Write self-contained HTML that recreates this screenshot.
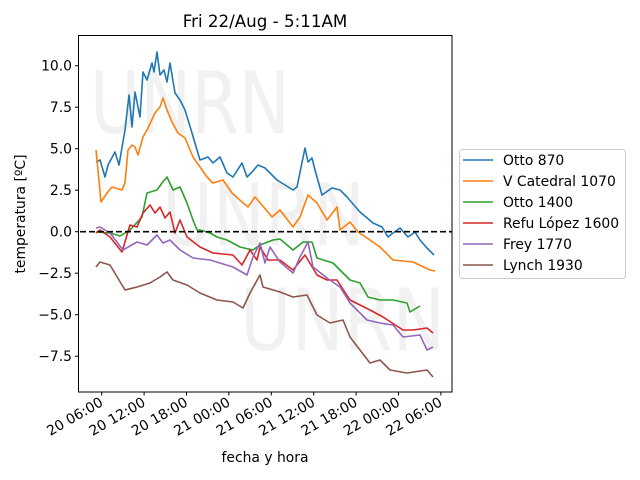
<!DOCTYPE html>
<html><head><meta charset="utf-8"><style>body{margin:0;background:#fff}svg{display:block}text{font-family:"DejaVu Sans","Liberation Sans",sans-serif}</style></head>
<body>
<svg width="640" height="480" viewBox="0 0 640 480" xmlns="http://www.w3.org/2000/svg">
<rect width="640" height="480" fill="#fff"/>
<g font-size="86" fill="#000" fill-opacity="0.055">
<text x="90" y="133" textLength="200" lengthAdjust="spacingAndGlyphs">UNRN</text>
<text x="162" y="245" textLength="203" lengthAdjust="spacingAndGlyphs">UNRN</text>
<text x="240" y="350" textLength="205" lengthAdjust="spacingAndGlyphs">UNRN</text>
</g>
<text x="265" y="27" font-size="16.7" text-anchor="middle">Fri 22/Aug - 5:11AM</text>
<g fill="none" stroke-width="1.6" stroke-linejoin="round">
<polyline stroke="#1f77b4" points="96,162 100,160 105,177 108,165 115,152 119,165 125,130 129,95 132,127 135,92 140,117 143,72 147,80 152,63 154,72 157,52 160,75 164,70 167,82 170,63 175,93 180,100 185,110 192,133 200,160 208,157 213,163 220,157 227,173 233,177 242,163 247,177 252,172 258,165 265,168 277,180 293,190 297,187 305,148 308,162 312,158 315,170 322,195 332,188 340,190 347,197 360,212 373,223 382,227 388,237 393,233 400,228 408,237 415,232 420,240 427,248 434,255"/>
<polyline stroke="#ff7f0e" points="96,150 98,170 101,202 107,193 112,187 122,190 125,183 128,150 132,145 135,147 138,155 143,137 148,128 155,113 160,107 163,98 167,110 172,122 178,133 185,138 193,157 200,167 207,177 213,183 223,180 232,193 242,202 248,207 255,197 262,205 272,217 280,210 290,223 293,227 300,217 308,195 317,203 327,220 337,207 340,230 350,222 358,232 367,238 380,247 393,260 413,262 430,270 435,271"/>
<polyline stroke="#2ca02c" points="96,232 110,233 120,236 130,230 142,217 147,193 157,190 162,183 167,177 173,190 180,187 187,203 193,220 197,230 200,230 210,233 217,237 227,240 240,247 253,250 260,245 273,240 280,239 293,250 303,242 312,242 317,258 333,263 350,280 360,283 368,297 380,300 393,300 407,303 410,312 420,306"/>
<polyline stroke="#d62728" points="96,233 100,230 110,237 122,252 130,225 137,227 143,213 150,205 155,213 160,207 165,218 170,212 175,233 180,220 187,237 200,247 213,253 233,255 242,265 250,250 257,260 260,247 268,260 280,260 293,270 305,255 317,275 327,280 337,280 350,300 370,310 383,317 403,330 413,330 427,328 433,333"/>
<polyline stroke="#9467bd" points="96,228 100,227 110,233 123,250 137,242 147,245 157,235 163,243 170,240 180,250 193,258 210,260 233,267 247,275 253,257 260,243 265,263 270,247 280,262 293,273 300,257 308,242 313,267 327,278 340,287 350,303 367,320 380,323 393,325 403,337 420,335 427,350 433,347"/>
<polyline stroke="#8c564b" points="96,267 100,262 110,265 125,290 137,287 150,283 160,277 167,272 173,280 187,285 200,293 217,300 233,302 243,308 250,293 260,275 263,287 280,292 293,297 307,295 317,315 330,323 343,320 350,337 360,350 370,363 380,360 390,370 407,373 427,370 433,377"/>
</g>
<line x1="80" y1="231.7" x2="452" y2="231.7" stroke="#000" stroke-width="1.6" stroke-dasharray="6,3"/>
<rect x="78.5" y="35.5" width="373.5" height="356.5" fill="none" stroke="#000" stroke-width="1"/>
<g stroke="#000" stroke-width="1">
<line x1="78.5" y1="65.7" x2="75" y2="65.7"/><line x1="78.5" y1="107.2" x2="75" y2="107.2"/><line x1="78.5" y1="148.7" x2="75" y2="148.7"/><line x1="78.5" y1="190.2" x2="75" y2="190.2"/><line x1="78.5" y1="231.7" x2="75" y2="231.7"/><line x1="78.5" y1="273.2" x2="75" y2="273.2"/><line x1="78.5" y1="314.7" x2="75" y2="314.7"/><line x1="78.5" y1="356.2" x2="75" y2="356.2"/>
<line x1="101.7" y1="392" x2="101.7" y2="395.5"/><line x1="144.1" y1="392" x2="144.1" y2="395.5"/><line x1="186.5" y1="392" x2="186.5" y2="395.5"/><line x1="228.9" y1="392" x2="228.9" y2="395.5"/><line x1="271.3" y1="392" x2="271.3" y2="395.5"/><line x1="313.7" y1="392" x2="313.7" y2="395.5"/><line x1="356.1" y1="392" x2="356.1" y2="395.5"/><line x1="398.5" y1="392" x2="398.5" y2="395.5"/><line x1="440.9" y1="392" x2="440.9" y2="395.5"/>
</g>
<g font-size="13.9" text-anchor="end">
<text x="72" y="70.5">10.0</text><text x="72" y="112">7.5</text><text x="72" y="153.5">5.0</text><text x="72" y="195">2.5</text><text x="72" y="236.5">0.0</text><text x="72" y="278">−2.5</text><text x="72" y="319.5">−5.0</text><text x="72" y="361">−7.5</text>
</g>
<g font-size="13.9" text-anchor="end">
<text transform="translate(104,405) rotate(-30)">20 06:00</text>
<text transform="translate(146.4,405) rotate(-30)">20 12:00</text>
<text transform="translate(188.8,405) rotate(-30)">20 18:00</text>
<text transform="translate(231.2,405) rotate(-30)">21 00:00</text>
<text transform="translate(273.6,405) rotate(-30)">21 06:00</text>
<text transform="translate(316,405) rotate(-30)">21 12:00</text>
<text transform="translate(358.4,405) rotate(-30)">21 18:00</text>
<text transform="translate(400.8,405) rotate(-30)">22 00:00</text>
<text transform="translate(443.2,405) rotate(-30)">22 06:00</text>
</g>
<text x="265" y="462" font-size="13.9" text-anchor="middle">fecha y hora</text>
<text transform="translate(25,214) rotate(-90)" font-size="13.9" text-anchor="middle">temperatura [ºC]</text>
<rect x="459.5" y="149.5" width="166" height="129" rx="3" fill="#fff" fill-opacity="0.8" stroke="#ccc"/>
<g stroke-width="1.6">
<line x1="463" y1="160" x2="493" y2="160" stroke="#1f77b4"/>
<line x1="463" y1="181" x2="493" y2="181" stroke="#ff7f0e"/>
<line x1="463" y1="202" x2="493" y2="202" stroke="#2ca02c"/>
<line x1="463" y1="223" x2="493" y2="223" stroke="#d62728"/>
<line x1="463" y1="244" x2="493" y2="244" stroke="#9467bd"/>
<line x1="463" y1="265" x2="493" y2="265" stroke="#8c564b"/>
</g>
<g font-size="13.9">
<text x="503" y="165">Otto 870</text>
<text x="503" y="186">V Catedral 1070</text>
<text x="503" y="207">Otto 1400</text>
<text x="503" y="228">Refu López 1600</text>
<text x="503" y="249">Frey 1770</text>
<text x="503" y="270">Lynch 1930</text>
</g>
</svg>
</body></html>
